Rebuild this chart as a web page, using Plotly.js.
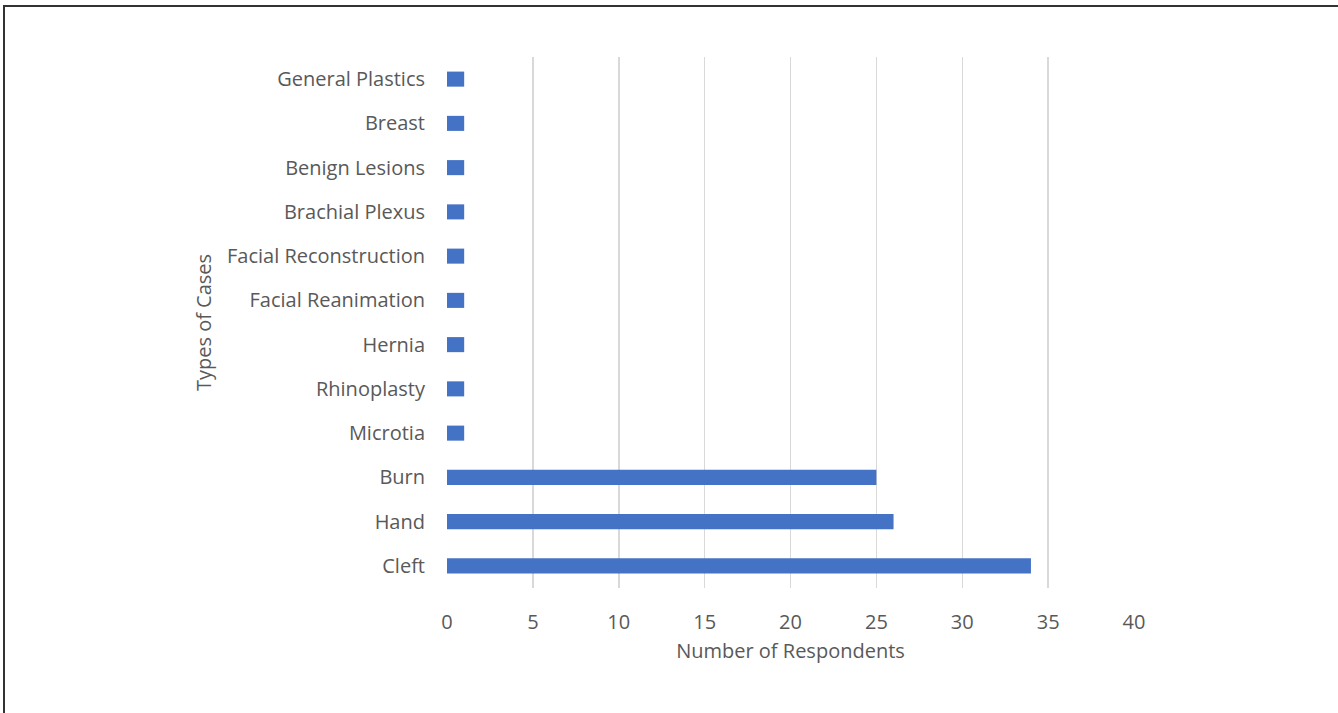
<!DOCTYPE html>
<html>
<head>
<meta charset="utf-8">
<script src="https://cdn.plot.ly/plotly-3.0.1.min.js"></script>
<style>
  html, body { margin: 0; padding: 0; background: #fff; }
  #chart {
    position: absolute; left: 0; top: 0;
    width: 1338px; height: 713px;
  }
  /* frame lines along the top and left edges */
  #frame {
    position: absolute; left: 3px; top: 5px;
    width: 1335px; height: 708px;
    border-top: 2px solid #333; border-left: 2px solid #333;
    box-sizing: border-box; pointer-events: none;
  }
</style>
</head>
<body>
<div id="chart"></div>
<div id="frame"></div>
<script>
// Case types, listed bottom to top
const caseTypes = [
  "Cleft", "Hand", "Burn", "Microtia", "Rhinoplasty", "Hernia",
  "Facial Reanimation", "Facial Reconstruction", "Brachial Plexus",
  "Benign Lesions", "Breast", "General Plastics"
];
const respondents = [34, 26, 25, 1, 1, 1, 1, 1, 1, 1, 1, 1];
const xTickValues = [0, 5, 10, 15, 20, 25, 30, 35, 40];

const font = "'Open Sans', 'Liberation Sans', sans-serif";
const textColor = "#595959";
const fontSize = 20;

const trace = {
  type: "bar",
  orientation: "h",
  y: caseTypes,
  x: respondents,
  marker: { color: "#4472c4", line: { width: 0 } },
  hoverinfo: "x+y"
};

const layout = {
  width: 1338,
  height: 713,
  margin: { l: 447, r: 204, t: 57, b: 125 },
  paper_bgcolor: "#ffffff",
  plot_bgcolor: "#ffffff",
  bargap: 0.66,
  showlegend: false,
  font: { family: font, size: fontSize, color: textColor },
  xaxis: {
    range: [0, 40],
    tickvals: xTickValues,
    ticktext: xTickValues.map(String),
    showgrid: true,
    gridcolor: "#d9d9d9",
    gridwidth: 1.5,
    zeroline: false,
    showline: false,
    ticks: "",
    ticklabelstandoff: 20,
    tickfont: { family: font, size: fontSize, color: textColor },
    automargin: false,
    title: {
      text: "Number of Respondents",
      font: { family: font, size: fontSize, color: textColor },
      standoff: 9
    }
  },
  yaxis: {
    type: "category",
    categoryorder: "array",
    categoryarray: caseTypes,
    showgrid: false,
    zeroline: false,
    showline: false,
    ticks: "",
    ticklabelstandoff: 21,
    tickfont: { family: font, size: fontSize, color: textColor },
    automargin: false,
    title: {
      text: "Types of Cases",
      font: { family: font, size: fontSize, color: textColor },
      standoff: 9
    }
  }
};

Plotly.newPlot("chart", [trace], layout, { displayModeBar: false, staticPlot: true });
</script>
</body>
</html>
